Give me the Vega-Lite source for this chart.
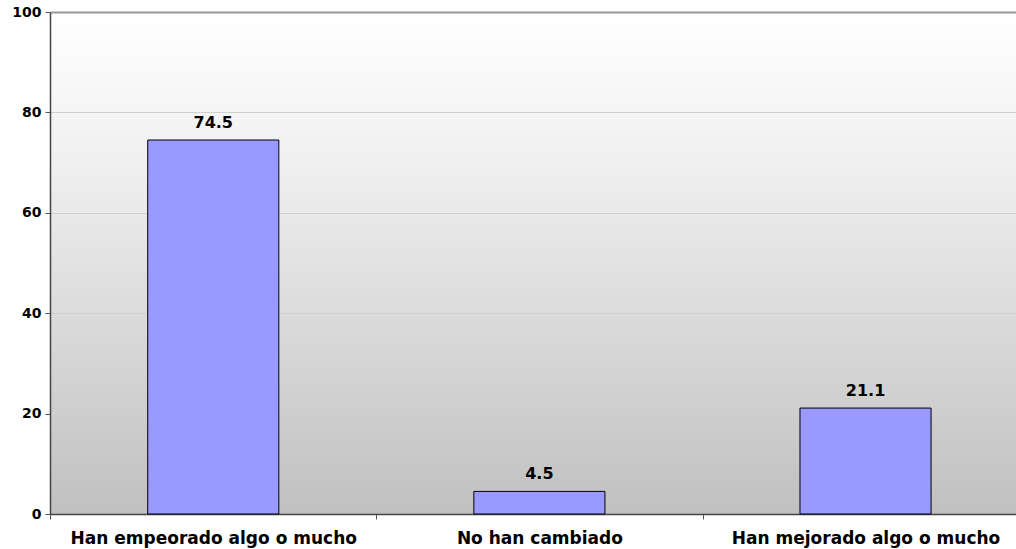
{
  "$schema": "https://vega.github.io/schema/vega-lite/v6.json",
  "width": 966,
  "height": 502,
  "autosize": "none",
  "padding": {"left": 50, "top": 12, "right": 0, "bottom": 35},
  "background": "white",
  "data": {"values": [
    {"cat": "Han empeorado algo o mucho", "val": 74.5},
    {"cat": "No han cambiado", "val": 4.5},
    {"cat": "Han mejorado algo o mucho", "val": 21.1}
  ]},
  "config": {
    "font": "DejaVu Sans",
    "view": {
      "stroke": null,
      "fill": {"gradient": "linear", "x1": 0, "y1": 0, "x2": 0, "y2": 1,
        "stops": [{"offset": 0, "color": "#ffffff"}, {"offset": 0.3, "color": "#f0f0f0"}, {"offset": 1, "color": "#c0c0c0"}]}
    }
  },
  "encoding": {
    "x": {"field": "cat", "type": "nominal", "sort": null,
      "scale": {"paddingInner": 0.598, "paddingOuter": 0.28, "align": 0.535},
      "axis": {"title": null, "labelAngle": 0, "labelLimit": 0, "labelFont": "DejaVu Sans", "labelFontWeight": "bold", "labelFontSize": 17, "labelColor": "#000", "labelPadding": 11, "tickOffset": -163, "labelOffset": 163, "tickColor": "#555", "tickSize": 5, "domainColor": "#444", "domainWidth": 1.5, "grid": false}},
    "y": {"field": "val", "type": "quantitative",
      "scale": {"domain": [0, 100], "nice": false},
      "axis": {"title": null, "values": [0, 20, 40, 60, 80, 100], "labelFont": "DejaVu Sans", "labelFontWeight": "bold", "labelFontSize": 14, "labelColor": "#000", "labelPadding": 4, "tickColor": "#555", "tickSize": 5, "domainColor": "#444", "domainWidth": 1.5,
        "gridColor": {"condition": {"test": "datum.value === 100", "value": "#999999"}, "value": "#cfcfcf"},
        "gridWidth": {"condition": {"test": "datum.value === 100", "value": 2}, "value": 1}}}
  },
  "layer": [
    {"mark": {"type": "bar", "color": "#9999ff", "stroke": "#000", "strokeWidth": 1}},
    {"mark": {"type": "text", "dy": -9, "baseline": "bottom", "fontWeight": "bold", "fontSize": 16, "font": "DejaVu Sans", "color": "#000"},
      "encoding": {"text": {"field": "val", "type": "quantitative", "format": ".1f"}}}
  ]
}
